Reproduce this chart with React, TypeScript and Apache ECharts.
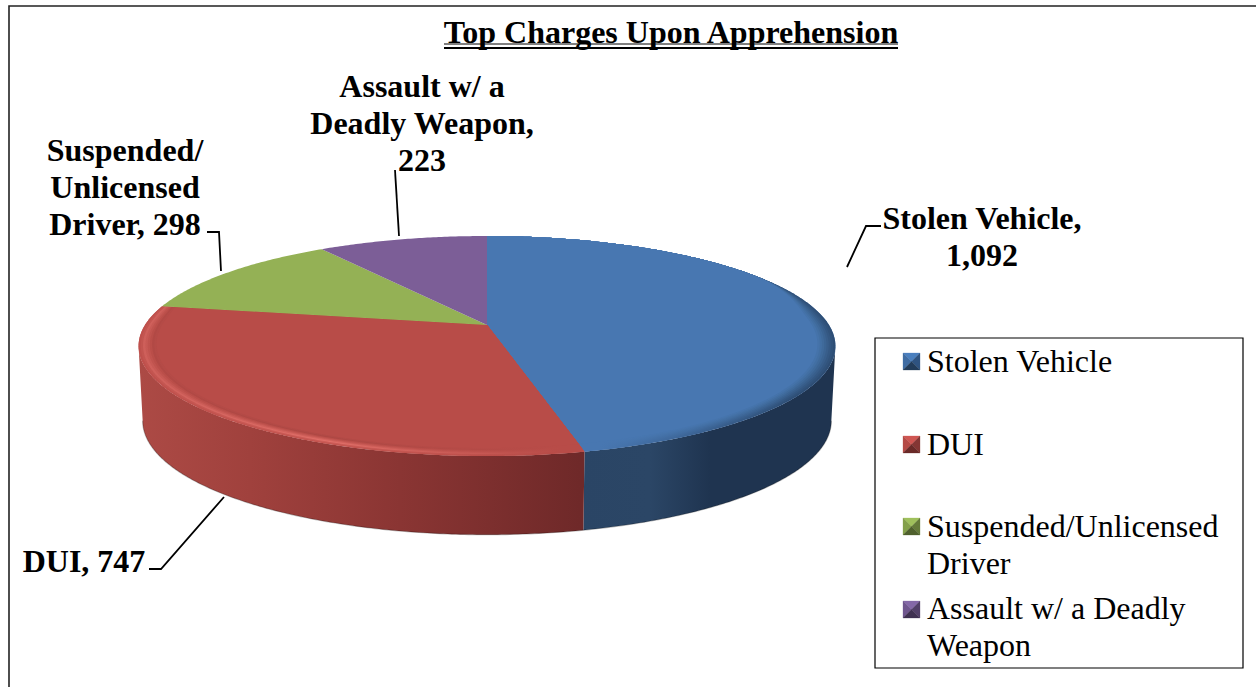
import React, { useEffect, useRef } from "react";
import * as echarts from "echarts";

const categories = ["Stolen Vehicle", "DUI", "Suspended/Unlicensed Driver", "Assault w/ a Deadly Weapon"];
const values = [1092, 747, 298, 223];
const titleText = "Top Charges Upon Apprehension";
const labelLines = [
  ["Stolen Vehicle,", "1,092"],
  ["DUI, 747"],
  ["Suspended/", "Unlicensed", "Driver, 298"],
  ["Assault w/ a", "Deadly Weapon,", "223"],
];
const legendLines = [
  ["Stolen Vehicle"],
  ["DUI"],
  ["Suspended/Unlicensed", "Driver"],
  ["Assault w/ a Deadly", "Weapon"],
];
const faceColors = ["#4877b1", "#b84c48", "#94b155", "#7c5e97"];
const bevelColors = [
  ["#2e4e75", "#31537c", "#345883", "#385e8b", "#3b6493", "#3f6a9b", "#426fa3", "#4573aa"],
  ["#c4544f", "#cc5c57", "#e06e68", "#d4635d", "#c65853", "#bb4f4a", "#ad4743", "#b24a46"],
  [],
  [],
];
// x range of each slice's rim shading: no shading at the first x, full at the second,
// and how much of it is left at the far end of the second stop
const bevelFade = [
  [600, 790, 790, 1],
  [560, 330, 140, 0.55],
  [0, 1, 1, 1],
  [0, 1, 1, 1],
];
const sideStops = [
  [[580, "#2a4565"], [650, "#2b4666"], [710, "#1f3450"], [836, "#1f3450"]],
  [[140, "#ac4a45"], [250, "#a0413d"], [400, "#8a3533"], [580, "#6f2929"]],
  [[140, "#6b8238"], [836, "#6b8238"]],
  [[140, "#5a4370"], [836, "#5a4370"]],
];
const markerColors = [
  ["#4a7fbe", "#3f6ca3", "#2f5380", "#223c5a"],
  ["#cf5652", "#b54a46", "#843634", "#6a2a28"],
  ["#9fc05c", "#83a04a", "#647a39", "#4f602d"],
  ["#8468a8", "#6f568e", "#513f68", "#3f3151"],
];

const CX = 487;
const PERSP = -0.191;
const TOP = { y0: 325, ay: 106, ax: 342 };
const BOTTOM = { y0: 399, ay: 109.8, ax: 338 };
const FONT = "'Liberation Serif', 'Times New Roman', serif";
const SILHOUETTE = Math.acos(PERSP); // where the projected rim is at its widest

function project(theta: number, r: number, p: { y0: number; ay: number; ax: number }) {
  const u = r * Math.sin(theta);
  const v = -r * Math.cos(theta);
  const den = 1 + PERSP * v;
  return [CX + (p.ax * u) / den, p.y0 + (p.ay * v) / den];
}
function arcPts(a: number, b: number, p: typeof TOP, rFn: (t: number) => number = () => 1) {
  const n = Math.max(4, Math.ceil(Math.abs(b - a) / 0.01));
  const pts: number[][] = [];
  for (let i = 0; i <= n; i++) {
    const t = a + ((b - a) * i) / n;
    pts.push(project(t, rFn(t), p));
  }
  return pts;
}
function taper(t: number) {
  const v = -Math.cos(t);
  const x = Math.min(1, Math.max(0, (v + 0.55) / 0.5));
  return x * x * (3 - 2 * x);
}
const total = values.reduce((s, v) => s + v, 0);
const BEVEL_WIDTH = 0.05;

function renderSlice(params: any, api: any) {
  const i = params.dataIndex;
  const before = values.slice(0, i).reduce((s, v) => s + v, 0);
  const a = (before / total) * 2 * Math.PI;
  const b = ((before + api.value(0)) / total) * 2 * Math.PI;
  const apex = project(0, 0, TOP);
  const children: any[] = [];
  const wa = Math.max(a, SILHOUETTE);
  const wb = Math.min(b, 2 * Math.PI - SILHOUETTE);
  if (wb > wa) {
    const upper = arcPts(wa, wb, TOP);
    const lower = arcPts(wb, wa, BOTTOM);
    const stops = sideStops[i] as [number, string][];
    const x0 = stops[0][0];
    const x1 = stops[stops.length - 1][0];
    children.push({
      type: "polygon",
      shape: { points: [...upper, ...lower] },
      style: {
        fill: {
          type: "linear", x: x0, y: 0, x2: x1, y2: 0, global: true,
          colorStops: stops.map(([x, c]) => ({ offset: (x - x0) / (x1 - x0), color: c })),
        },
      },
    });
    children.push({
      type: "polyline",
      shape: { points: lower },
      style: { stroke: "rgba(0,0,0,0.25)", lineWidth: 1.2, fill: "none" },
    });
  }
  const face = (rFn: ((t: number) => number) | undefined, fill: any) => ({
    type: "polygon",
    shape: { points: [apex, ...arcPts(a, b, TOP, rFn)] },
    style: { fill },
  });
  children.push(face(undefined, faceColors[i]));
  const bevel = bevelColors[i];
  const [fx0, fx1, fx2, keep] = bevelFade[i];
  bevel.forEach((c, k) => {
    const w = (k * BEVEL_WIDTH) / bevel.length;
    const base = faceColors[i];
    const mid = (fx1 - fx0) / (fx2 - fx0);
    children.push(
      face((t) => 1 - w * taper(t), {
        type: "linear", x: fx0, y: 0, x2: fx2, y2: 0, global: true,
        colorStops: [
          { offset: 0, color: base },
          { offset: mid, color: c },
          { offset: 1, color: echarts.color.lerp(keep, [base, c]) },
        ],
      })
    );
  });
  if (bevel.length) children.push(face((t) => 1 - BEVEL_WIDTH * taper(t), faceColors[i]));
  return { type: "group", children };
}

function textBlock(lines: string[], cx: number, top: number, step: number, size: number, weight: string, align = "center") {
  return lines.map((text, k) => ({
    type: "text",
    x: cx,
    y: top + k * step,
    style: { text, fill: "#000", font: `${weight} ${size}px ${FONT}`, textAlign: align, textVerticalAlign: "middle" },
  }));
}
function leader(points: number[][]) {
  return { type: "polyline", shape: { points }, style: { stroke: "#000", lineWidth: 1.8, fill: "none" } };
}
function marker(x: number, y: number, s: number, c: string[]) {
  const m = [x + s / 2, y + s / 2];
  const tri = (p: number[][], fill: string) => ({ type: "polygon", shape: { points: p }, style: { fill, stroke: fill, lineWidth: 0.3 } });
  return [
    tri([[x, y], [x + s, y], m], c[0]),
    tri([[x, y], [x, y + s], m], c[1]),
    tri([[x + s, y], [x + s, y + s], m], c[2]),
    tri([[x, y + s], [x + s, y + s], m], c[3]),
  ];
}

export default function App() {
  const ref = useRef<HTMLDivElement>(null);
  useEffect(() => {
    document.body.style.margin = "0";
    document.body.style.background = "#fff";
    const chart = echarts.init(ref.current!, undefined, { renderer: "svg" });
    const legendY = [361, 444, 526, 608];
    const graphic: any[] = [
      { type: "rect", shape: { x: 9, y: 6, width: 1300, height: 760 }, style: { fill: "none", stroke: "#222", lineWidth: 1.6 } },
      { type: "line", shape: { x1: 444, y1: 44, x2: 898, y2: 44 }, style: { stroke: "#000", lineWidth: 1 } },
      { type: "line", shape: { x1: 444, y1: 48, x2: 898, y2: 48 }, style: { stroke: "#000", lineWidth: 2 } },
      ...textBlock([titleText], 671, 32, 0, 32, "bold"),
      ...textBlock(labelLines[0], 982, 218, 37, 32, "bold"),
      ...textBlock(labelLines[1], 84, 561, 37, 32, "bold"),
      ...textBlock(labelLines[2], 125, 150, 37, 32, "bold"),
      ...textBlock(labelLines[3], 422, 86, 37, 32, "bold"),
      leader([[881, 226], [866, 226], [847, 267]]),
      leader([[149, 569], [161, 569], [224, 497]]),
      leader([[207, 232], [219, 232], [221, 271]]),
      leader([[395, 170], [399, 236]]),
      { type: "rect", shape: { x: 875, y: 338, width: 368, height: 330 }, style: { fill: "#fff", stroke: "#000", lineWidth: 1.2 } },
    ];
    categories.forEach((_, i) => {
      graphic.push(...marker(903, [353, 436, 518, 601][i], 17, markerColors[i]));
      graphic.push(...textBlock(legendLines[i], 927, legendY[i], 37, 32, "normal", "left"));
    });
    chart.setOption({
      animation: false,
      backgroundColor: "#fff",
      graphic: { elements: graphic },
      series: [
        {
          type: "custom",
          coordinateSystem: "none",
          renderItem: renderSlice,
          data: categories.map((name, i) => ({ name, value: [values[i]] })),
          silent: true,
          z: 1,
        },
      ],
    });
    return () => chart.dispose();
  }, []);
  return <div ref={ref} style={{ position: "fixed", left: 0, top: 0, width: 1256, height: 687 }} />;
}
